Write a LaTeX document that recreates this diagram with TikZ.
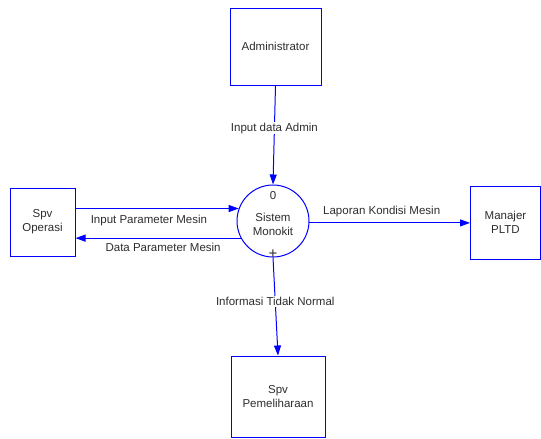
\documentclass[tikz,border=0pt]{standalone}
\usepackage{fontspec}
\setmainfont{Liberation Sans}
\usetikzlibrary{arrows.meta}
\definecolor{flow}{RGB}{0,0,255}
\definecolor{txt}{RGB}{45,45,45}
\begin{document}
\begin{tikzpicture}[x=1pt,y=-1pt,
  every node/.style={text=txt,font=\fontsize{11.5}{14}\selectfont,inner sep=0pt},
  entity/.style={draw=flow,line width=1pt,align=center},
  proc/.style={draw=flow,line width=1pt,circle,minimum size=72pt},
  flowline/.style={draw=flow,line width=1pt},
  arr/.style={flowline,-{Triangle[length=10pt,width=7pt]}},
  lbl/.style={fill=white,inner sep=1pt}]
\useasboundingbox (0,0) rectangle (541,439);
\node[entity,minimum width=91pt,minimum height=77pt] (adm) at (275.5,46.5) {Administrator};
\node[entity,minimum width=65pt,minimum height=68pt] (opr) at (42.5,222) {Spv\\Operasi};
\node[entity,minimum width=70pt,minimum height=73pt] (mgr) at (505.5,222.5) {Manajer\\PLTD};
\node[entity,minimum width=94pt,minimum height=81pt] (pem) at (278,396.5) {Spv\\Pemeliharaan};
\node[proc] (sys) at (273,221) {};
\node (zero) at (273,196) {0};
\node[align=center] (name) at (273,224.5) {Sistem\\Monokit};
\node[font=\fontsize{15}{15}\selectfont] (plus) at (273,254.5) {+};
% flows
\draw[arr] (adm.south) -- node[lbl,pos=0.43] (l1) {Input data Admin} (sys.north);
\draw[arr] (opr.east |- sys.160.5) -- node[below=6pt,pos=0.45] (l2) {Input Parameter Mesin} (sys.160.5);
\draw[arr] (sys.208.2) -- node[below=5pt,pos=0.47] (l3) {Data Parameter Mesin} (opr.east |- sys.208.2);
\draw[arr] (sys.-3) -- node[above=6pt,pos=0.45] (l4) {Laporan Kondisi Mesin} (mgr.west |- sys.-3);
\draw[arr] (sys.south) -- node[lbl,pos=0.45] (l5) {Informasi Tidak Normal} (pem.north);
\end{tikzpicture}
\end{document}
